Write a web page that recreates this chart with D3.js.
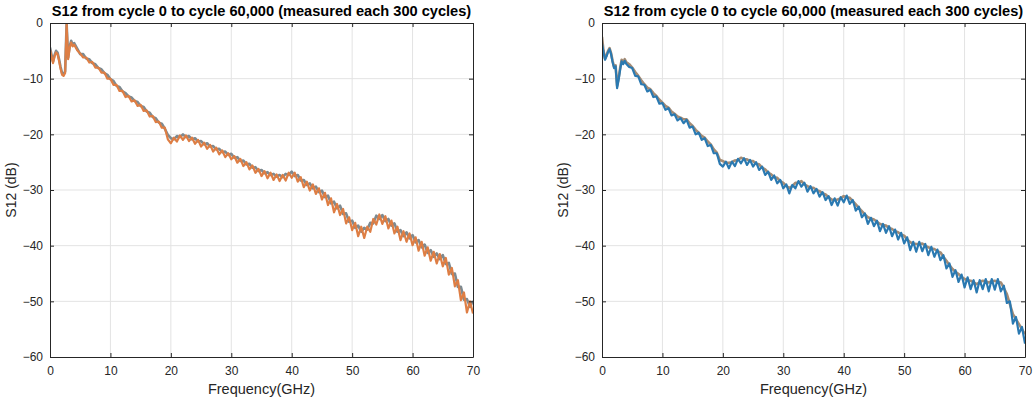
<!DOCTYPE html>
<html>
<head>
<meta charset="utf-8">
<script src="https://cdn.jsdelivr.net/npm/d3@7"></script>
<style>
  body { margin: 0; background: #fff; }
  svg { display: block; font-family: "Liberation Sans", Arial, Helvetica, sans-serif; }
</style>
</head>
<body>
<svg id="chart" width="1033" height="400"></svg>
<script>
// ---- data -------------------------------------------------------------
const titleText = "S12 from cycle 0 to cycle 60,000 (measured each 300 cycles)";
const xLabel = "Frequency(GHz)";
const yLabel = "S12 (dB)";
const xTicks = [0, 10, 20, 30, 40, 50, 60, 70];
const yTicks = [0, -10, -20, -30, -40, -50, -60];

// sweep grid: 0.25 GHz steps up to 4 GHz, then 0.5 GHz steps up to 70 GHz
const freqGHz = d3.range(0, 4.001, 0.25).concat(d3.range(4.5, 70.001, 0.5));

// left panel, first measurement (upper edge of the bundle)
const leftFirst = [
  -4.4, -5.7, -6.9, -5.8, -5.0, -5.3, -6.5, -7.9, -9.0, -9.2, -8.7, -0.2, -6.2, -4.2, -3.2, -3.9, -3.6,
  -4.6,
  -5.6, -5.6, -6.4, -6.5, -7.2, -7.4, -8.1, -8.3, -9.0, -9.3,
  -10.1, -10.4, -11.3, -11.5, -12.3, -12.6, -13.2, -13.4, -14.0, -14.2,
  -14.9, -15.1, -15.9, -16.1, -16.9, -17.1, -17.9, -18.1, -19.0, -20.1,
  -20.7, -20.9, -20.3, -20.5, -20.0, -20.5, -20.3, -20.9, -20.7, -21.3,
  -21.2, -21.8, -21.6, -22.2, -22.1, -22.7, -22.6, -23.2, -23.1, -23.7,
  -23.5, -24.2, -24.1, -24.8, -24.7, -25.4, -25.3, -26.0, -25.9, -26.6,
  -26.4, -27.0, -26.8, -27.3, -27.1, -27.6, -27.3, -27.7, -27.1, -27.3,
  -26.7, -27.5, -27.3, -28.3, -28.2, -29.1, -28.8, -29.7, -29.4, -30.4,
  -30.1, -31.3, -31.0, -32.4, -32.1, -33.3, -32.8, -34.3, -34.2, -35.7,
  -35.5, -36.8, -36.4, -37.5, -36.8, -37.1, -35.9, -36.0, -34.6, -35.2,
  -34.5, -35.6, -35.2, -36.4, -36.0, -37.5, -37.2, -38.3, -37.6, -38.7,
  -38.1, -39.4, -39.0, -40.3, -39.8, -41.3, -40.8, -42.0, -41.4, -42.4,
  -41.7, -43.3, -43.1, -45.1, -45.0, -47.4, -47.4, -49.7, -49.6, -51.0,
  -49.9
];

// left panel, last measurement
const leftLast = [
  -4.8, -6.0, -7.2, -6.0, -5.3, -5.6, -6.8, -8.2, -9.3, -9.5, -9.0, -0.3, -6.5, -4.5, -3.5, -4.2, -3.9,
  -4.9,
  -5.5, -6.2, -6.2, -7.1, -7.0, -8.0, -8.0, -8.9, -8.9, -10.0,
  -10.0, -11.1, -11.1, -12.2, -12.2, -13.3, -13.1, -14.1, -13.9, -14.9,
  -14.7, -15.8, -15.7, -16.8, -16.7, -17.8, -17.7, -18.8, -18.8, -20.9,
  -21.6, -20.6, -21.3, -20.2, -21.0, -20.2, -21.2, -20.6, -21.7, -21.0,
  -22.2, -21.5, -22.6, -21.9, -23.1, -22.4, -23.6, -22.9, -24.1, -23.4,
  -24.5, -23.9, -25.1, -24.4, -25.7, -25.0, -26.3, -25.6, -26.9, -26.2,
  -27.5, -26.6, -27.9, -26.9, -28.2, -27.2, -28.4, -27.3, -28.3, -26.9,
  -27.8, -26.9, -28.5, -27.7, -29.5, -28.5, -30.1, -29.0, -30.7, -29.7,
  -31.7, -30.5, -32.7, -31.5, -34.0, -32.5, -34.5, -33.4, -36.0, -34.9,
  -37.2, -35.9, -38.3, -36.6, -38.6, -36.6, -37.5, -35.2, -36.2, -34.4,
  -36.1, -34.7, -36.9, -35.5, -37.8, -36.6, -39.0, -37.4, -39.3, -37.8,
  -39.9, -38.5, -40.9, -39.3, -41.8, -40.3, -42.7, -41.1, -43.2, -41.5,
  -43.7, -42.2, -45.2, -44.0, -47.3, -46.2, -49.8, -48.4, -52.0, -50.0,
  -52.2
];

// right panel, first measurement (upper edge of the bundle)
const rightFirst = [
  -2.5, -5.0, -6.4, -5.8, -5.0, -4.5, -5.4, -6.8, -7.9, -7.6, -11.3, -9.9, -8.1, -6.6, -7.1, -6.5, -7.0,
  -7.4,
  -8.0, -8.8, -9.5, -10.3, -11.0, -11.6, -11.9, -12.6, -13.1, -13.8,
  -14.3, -14.9, -15.2, -15.9, -16.3, -16.8, -17.0, -17.3, -17.3, -18.0,
  -18.5, -19.2, -19.7, -20.3, -20.6, -21.3, -21.8, -22.7, -23.3, -24.6,
  -24.8, -25.1, -25.1, -25.0, -24.7, -24.6, -24.2, -24.5, -24.5, -24.8,
  -24.8, -25.3, -25.4, -26.0, -26.3, -26.9, -27.2, -27.7, -27.8, -28.4,
  -28.7, -29.3, -29.6, -29.3, -28.7, -28.7, -28.4, -29.0, -29.3, -29.6,
  -29.6, -30.0, -30.2, -30.6, -30.8, -31.3, -31.7, -31.8, -31.7, -31.5,
  -31.1, -31.3, -31.4, -32.0, -32.6, -33.2, -33.8, -34.4, -34.9, -35.1,
  -35.3, -35.7, -36.1, -36.3, -36.4, -36.8, -37.0, -37.4, -37.6, -38.0,
  -38.2, -38.9, -39.4, -39.6, -39.7, -39.7, -39.6, -40.0, -40.3, -40.5,
  -40.6, -41.0, -41.2, -42.0, -42.7, -43.5, -44.2, -44.7, -45.1, -45.6,
  -46.0, -46.2, -46.3, -46.6, -46.9, -46.6, -46.3, -46.4, -46.6, -46.4,
  -46.3, -46.5, -46.6, -47.6, -48.7, -50.5, -52.3, -53.2, -54.1, -55.0,
  -55.9
];

// right panel, last measurement
const rightLast = [
  -3.7, -5.2, -6.6, -6.0, -5.2, -4.7, -5.6, -7.0, -8.1, -7.8, -11.7, -10.2, -8.4, -6.9, -7.4, -6.8, -7.3,
  -7.9,
  -8.1, -9.5, -9.6, -11.0, -11.1, -12.3, -12.0, -13.3, -13.2, -14.5,
  -14.4, -15.6, -15.3, -16.6, -16.4, -17.5, -17.1, -18.0, -17.4, -18.8,
  -18.6, -20.0, -19.7, -21.0, -20.7, -22.1, -21.9, -23.4, -23.4, -25.3,
  -25.8, -24.9, -26.1, -24.9, -25.7, -24.4, -25.2, -24.3, -25.5, -24.6,
  -25.8, -25.0, -26.4, -25.8, -27.3, -26.7, -28.2, -27.4, -28.8, -28.2,
  -29.7, -29.0, -30.6, -29.1, -29.7, -28.4, -29.4, -28.7, -30.3, -29.3,
  -30.6, -29.8, -31.2, -30.4, -31.8, -31.1, -32.7, -31.5, -32.8, -31.3,
  -32.2, -31.0, -32.5, -31.8, -33.7, -33.0, -34.9, -34.2, -36.1, -35.0,
  -36.5, -35.5, -37.4, -36.1, -37.7, -36.5, -38.3, -37.1, -38.9, -37.7,
  -39.6, -38.5, -40.8, -39.3, -41.1, -39.3, -41.0, -39.7, -41.7, -40.2,
  -42.0, -40.7, -42.6, -41.7, -44.1, -43.2, -45.6, -44.4, -46.5, -45.2,
  -47.5, -45.7, -47.8, -46.2, -48.4, -46.2, -47.8, -46.0, -48.2, -46.0,
  -47.9, -46.0, -48.2, -47.2, -50.3, -50.0, -54.0, -52.8, -55.8, -54.6,
  -57.6
];

// ---- layout -----------------------------------------------------------
const svg = d3.select("#chart");
const panels = [
  { id: "L", left: 50, right: 473, top: 23, bottom: 357, labelX: 16,
    series: [ { values: leftFirst, color: "#7e8a90", width: 2.6 }, { values: leftLast, color: "#de7e44", width: 2.2 } ] },
  { id: "R", left: 602, right: 1025, top: 23, bottom: 357, labelX: 568,
    series: [ { values: rightFirst, color: "#a48b74", width: 2.6 }, { values: rightLast, color: "#2a79b1", width: 2.2 } ] }
];

const axisColor = "#262626";
const gridColor = "#e3e3e3";

panels.forEach(p => {
  const x = d3.scaleLinear().domain([0, 70]).range([p.left, p.right]);
  const y = d3.scaleLinear().domain([-60, 0]).range([p.bottom, p.top]);
  const w = p.right - p.left, h = p.bottom - p.top;
  const g = svg.append("g");

  // grid
  const grid = g.append("g");
  grid.selectAll("line.gx").data(xTicks.slice(1, -1)).join("line")
    .attr("x1", d => x(d)).attr("x2", d => x(d))
    .attr("y1", p.top).attr("y2", p.bottom)
    .attr("stroke", gridColor).attr("stroke-width", 1);
  grid.selectAll("line.gy").data(yTicks.slice(1, -1)).join("line")
    .attr("x1", p.left).attr("x2", p.right)
    .attr("y1", d => y(d)).attr("y2", d => y(d))
    .attr("stroke", gridColor).attr("stroke-width", 1);

  // traces
  g.append("clipPath").attr("id", "clip" + p.id)
    .append("rect").attr("x", p.left).attr("y", p.top).attr("width", w).attr("height", h);
  const line = d3.line()
    .x((d, i) => x(freqGHz[i]))
    .y(d => y(d));
  const traces = g.append("g").attr("clip-path", `url(#clip${p.id})`);
  p.series.forEach(s => {
    traces.append("path")
      .datum(s.values.slice(0, freqGHz.length))
      .attr("d", line)
      .attr("fill", "none")
      .attr("stroke", s.color)
      .attr("stroke-width", s.width)
      .attr("stroke-linejoin", "round");
  });

  // axes with inward ticks on all four sides
  const styleAxis = sel => {
    sel.select(".domain").attr("stroke", axisColor).attr("stroke-width", 1);
    sel.selectAll(".tick line").attr("stroke", axisColor);
    sel.selectAll("text").attr("fill", axisColor).attr("font-size", 12)
      .attr("font-family", "'Liberation Sans', Arial, sans-serif");
  };
  g.append("g").attr("transform", `translate(0,${p.bottom})`)
    .call(d3.axisBottom(x).tickValues(xTicks).tickSizeInner(-4).tickSizeOuter(0).tickPadding(9))
    .call(styleAxis);
  g.append("g").attr("transform", `translate(0,${p.top})`)
    .call(d3.axisTop(x).tickValues(xTicks).tickSizeInner(-4).tickSizeOuter(0).tickFormat(""))
    .call(styleAxis);
  g.append("g").attr("transform", `translate(${p.left},0)`)
    .call(d3.axisLeft(y).tickValues(yTicks).tickSizeInner(-4).tickSizeOuter(0).tickPadding(7))
    .call(styleAxis);
  g.append("g").attr("transform", `translate(${p.right},0)`)
    .call(d3.axisRight(y).tickValues(yTicks).tickSizeInner(-4).tickSizeOuter(0).tickFormat(""))
    .call(styleAxis);

  // texts
  g.append("text")
    .attr("x", (p.left + p.right) / 2).attr("y", 16)
    .attr("text-anchor", "middle").attr("font-weight", "bold").attr("font-size", 14.6)
    .attr("fill", "#000").text(titleText);
  g.append("text")
    .attr("x", (p.left + p.right) / 2).attr("y", 394)
    .attr("text-anchor", "middle").attr("font-size", 14.5)
    .attr("fill", axisColor).text(xLabel);
  g.append("text")
    .attr("transform", `translate(${p.labelX},${(p.top + p.bottom) / 2}) rotate(-90)`)
    .attr("text-anchor", "middle").attr("font-size", 14)
    .attr("fill", axisColor).text(yLabel);
});
</script>
</body>
</html>
